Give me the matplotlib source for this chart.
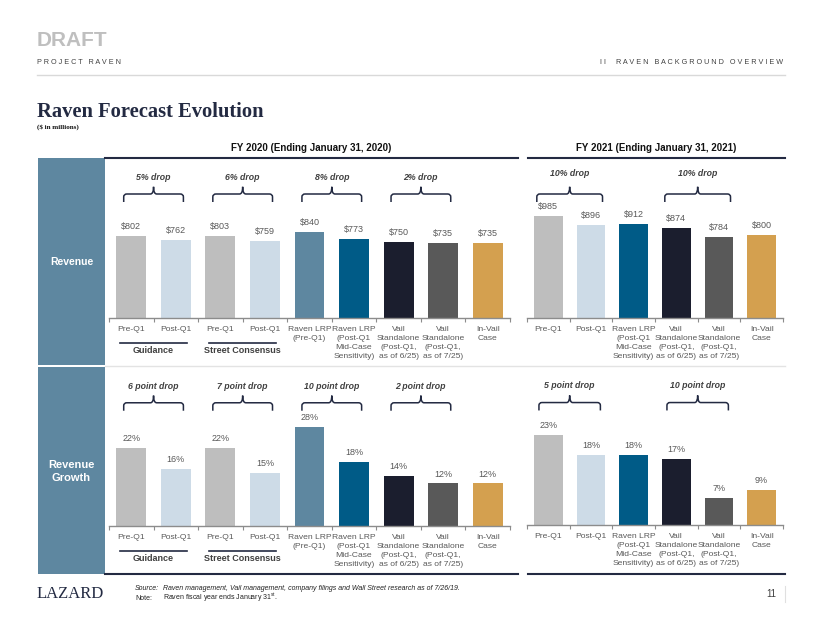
import numpy as np
import matplotlib
matplotlib.use('Agg')
import matplotlib.pyplot as plt
from matplotlib.path import Path
from matplotlib.patches import PathPatch, Rectangle
from matplotlib.lines import Line2D
from matplotlib.ticker import NullFormatter
from matplotlib.transforms import blended_transform_factory

plt.rcParams['font.family'] = ['Liberation Sans', 'DejaVu Sans']
plt.rcParams['mathtext.fontset'] = 'custom'
plt.rcParams['mathtext.rm'] = 'Liberation Sans'
plt.rcParams['mathtext.it'] = 'Liberation Sans:italic'

# ---- data ----
labels_fy20 = ['Pre-Q1', 'Post-Q1', 'Pre-Q1', 'Post-Q1', 'Raven LRP\n(Pre-Q1)',
               'Raven LRP\n(Post-Q1\nMid-Case\nSensitivity)',
               'Vail\nStandalone\n(Post-Q1,\nas of 6/25)',
               'Vail\nStandalone\n(Post-Q1,\nas of 7/25)', 'In-Vail\nCase']
labels_fy21 = ['Pre-Q1', 'Post-Q1', 'Raven LRP\n(Post-Q1\nMid-Case\nSensitivity)',
               'Vail\nStandalone\n(Post-Q1,\nas of 6/25)',
               'Vail\nStandalone\n(Post-Q1,\nas of 7/25)', 'In-Vail\nCase']
colors_fy20 = ['#BEBEBE', '#CDDBE7', '#BEBEBE', '#CDDBE7', '#5E87A0', '#005B87',
               '#1B1E2E', '#595959', '#D4A04F']
colors_fy21 = ['#BEBEBE', '#CDDBE7', '#005B87', '#1B1E2E', '#595959', '#D4A04F']

revenue_fy20 = [802, 762, 803, 759, 840, 773, 750, 735, 735]
revenue_fy21 = [985, 896, 912, 874, 784, 800]
growth_fy20 = [22, 16, 22, 15, 28, 18, 14, 12, 12]
growth_fy21 = [23, 18, 18, 17, 7, 9]

rev_drops_fy20 = [(0, '5% drop'), (2, '6% drop'), (4, '8% drop'), (6, '2% drop')]
rev_drops_fy21 = [(0, '10% drop'), (3, '10% drop')]
gr_drops_fy20 = [(0, '6 point drop'), (2, '7 point drop'), (4, '10 point drop'), (6, '2 point drop')]
gr_drops_fy21 = [(0, '5 point drop'), (3, '10 point drop')]
groups_fy20 = [(0, 'Guidance'), (2, 'Street Consensus')]

# ---- layout helpers (pixel based) ----
W, H = 822, 635
NAVY = '#232A42'
fig = plt.figure(figsize=(W / 100, H / 100), dpi=100)


def fx(x):
    return x / W


def fy(y):
    return 1 - y / H


def frect(x0, y0, x1, y1):
    return [x0 / W, 1 - y1 / H, (x1 - x0) / W, (y1 - y0) / H]


def hline(x0, x1, y, color, lw):
    fig.add_artist(Line2D([fx(x0), fx(x1)], [fy(y), fy(y)], color=color, lw=lw,
                          transform=fig.transFigure))


def draw_brace(ax, x0, x1, y_bot, y_line, y_top, r=0.07, c=0.018):
    xm = (x0 + x1) / 2
    verts = [(x0, y_bot), (x0, y_line - c), (x0, y_line), (x0 + r, y_line),
             (xm - r, y_line), (xm, y_line), (xm, y_top),
             (xm, y_line), (xm + r, y_line),
             (x1 - r, y_line), (x1, y_line), (x1, y_line - c), (x1, y_bot)]
    codes = [Path.MOVETO, Path.LINETO, Path.CURVE3, Path.CURVE3,
             Path.LINETO, Path.CURVE3, Path.CURVE3,
             Path.CURVE3, Path.CURVE3,
             Path.LINETO, Path.CURVE3, Path.CURVE3, Path.LINETO]
    trans = blended_transform_factory(ax.transData, ax.transAxes)
    ax.add_patch(PathPatch(Path(verts, codes), transform=trans, fill=False,
                           edgecolor=NAVY, lw=1.1, clip_on=False))


def bar_panel(rect, values, colors, labels, ymax, fmt, drops, groups,
              brace_half, drop_y):
    ax = fig.add_axes(frect(*rect))
    x = np.arange(len(values))
    ax.bar(x, values, width=0.67, color=colors)
    for xi, v in zip(x, values):
        ax.annotate(fmt.format(v), (xi, v), xytext=(0, 3.5), textcoords='offset points',
                    ha='center', va='bottom', fontsize=6.5, color='#595959')
    ax.set_xlim(-0.5, len(values) - 0.5)
    ax.set_ylim(0, ymax)
    for s in ['top', 'left', 'right']:
        ax.spines[s].set_visible(False)
    ax.spines['bottom'].set_color('#8C8C8C')
    ax.spines['bottom'].set_linewidth(1.0)
    ax.set_yticks([])
    ax.set_xticks(np.arange(len(values) + 1) - 0.5)
    ax.xaxis.set_major_formatter(NullFormatter())
    ax.tick_params(axis='x', which='major', length=3, color='#8C8C8C', width=0.8)
    ax.set_xticks(x, minor=True)
    ax.set_xticklabels(labels, minor=True, fontsize=6.1, color='#595959', linespacing=1.42)
    ax.tick_params(axis='x', which='minor', length=0, pad=5.5)
    ax.patch.set_alpha(0)

    trans = blended_transform_factory(ax.transData, ax.transAxes)
    for i, txt in drops:
        draw_brace(ax, i - brace_half, i + 1 + brace_half, 0.725, 0.775, 0.82)
        ax.text(i + 0.5, drop_y, txt, transform=trans,
                ha='center', va='center', fontsize=6.3, style='italic', fontweight='bold',
                color='#404040')

    for i, txt in groups:
        ax.add_line(Line2D([i - 0.25, i + 1.25], [-0.155, -0.155], color=NAVY, lw=1.2,
                           transform=trans, clip_on=False))
        ax.text(i + 0.5, -0.205, txt, transform=trans, ha='center', va='center',
                fontsize=6.5, fontweight='bold', color='#404040')
    return ax


# ---- header ----
fig.text(fx(37), fy(40), 'DRAFT', fontsize=15, fontweight='bold', color='#BFBFBF',
         ha='left', va='center')
fig.text(fx(37), fy(63), 'P R O J E C T   R A V E N', fontsize=5.2, color='#404040',
         ha='left', va='center')
fig.text(fx(783), fy(63), 'I I     R A V E N   B A C K G R O U N D   O V E R V I E W',
         fontsize=5.2, color='#404040', ha='right', va='center')
hline(37, 785, 75, '#D9D9D9', 1.0)
fig.text(fx(37), fy(112), 'Raven Forecast Evolution', fontsize=14.8, fontweight='bold',
         family='Liberation Serif', color=NAVY, ha='left', va='center')
fig.text(fx(37), fy(127), '($ in millions)', fontsize=5, fontweight='bold',
         family='Liberation Serif', color='#111111', ha='left', va='center')

# column headers
fig.text(fx(311), fy(148), 'FY 2020 (Ending January 31, 2020)', fontsize=7, fontweight='bold',
         color='#111111', ha='center', va='center')
fig.text(fx(656), fy(148), 'FY 2021 (Ending January 31, 2021)', fontsize=7, fontweight='bold',
         color='#111111', ha='center', va='center')
hline(105, 518, 157.5, NAVY, 1.5)
hline(528, 785, 157.5, NAVY, 1.5)
hline(105, 518, 574, NAVY, 1.5)
hline(528, 785, 574, NAVY, 1.5)
hline(105, 785, 365.5, '#E3E3E3', 1.0)

# side panels
for y0, y1, txt, fs in [(158, 365, 'Revenue', 7.5), (367, 574, 'Revenue\nGrowth', 8)]:
    fig.add_artist(Rectangle((fx(38), fy(y1)), (105 - 38) / W, (y1 - y0) / H,
                             color='#5E87A0', transform=fig.transFigure, lw=0))
    fig.text(fx(71.5), fy((y0 + y1) / 2 + 1), txt, fontsize=fs, fontweight='bold',
             color='white', ha='center', va='center', linespacing=1.45)

# ---- charts ----
bar_panel((109, 158, 510, 318), revenue_fy20, colors_fy20, labels_fy20, 1569, '${:,.0f}',
          rev_drops_fy20, groups_fy20, 0.17, 0.875)
bar_panel((527, 158, 783, 318), revenue_fy21, colors_fy21, labels_fy21, 1546, '${:,.0f}',
          rev_drops_fy21, [], 0.27, 0.905)
bar_panel((109, 367, 510, 526), growth_fy20, colors_fy20, labels_fy20, 44.8, '{}%',
          gr_drops_fy20, groups_fy20, 0.17, 0.88)
bar_panel((527, 367, 783, 525), growth_fy21, colors_fy21, labels_fy21, 40.5, '{}%',
          gr_drops_fy21, [], 0.22, 0.88)

# ---- footer ----
fig.text(fx(37), fy(594), 'LAZARD', fontsize=12, family='Liberation Serif', color=NAVY,
         ha='left', va='center')
fig.text(fx(135), fy(589), 'Source:', fontsize=5, style='italic', color='#222222',
         ha='left', va='center')
fig.text(fx(163), fy(589),
         'Raven management, Vail management, company filings and Wall Street research as of 7/26/19.',
         fontsize=5, style='italic', color='#222222', ha='left', va='center')
fig.text(fx(135), fy(598), 'Note:', fontsize=5, color='#222222', ha='left', va='center')
fig.text(fx(163), fy(598), r'Raven fiscal year ends January 31$^{\mathrm{st}}$.', fontsize=5,
         color='#222222', ha='left', va='center')
fig.text(fx(776), fy(594), '11', fontsize=7, color='#404040', ha='right', va='center')
fig.add_artist(Line2D([fx(785), fx(785)], [fy(586), fy(602)], color='#E0E0E0', lw=0.8,
                      transform=fig.transFigure))

fig.savefig('out.png', dpi=100)
